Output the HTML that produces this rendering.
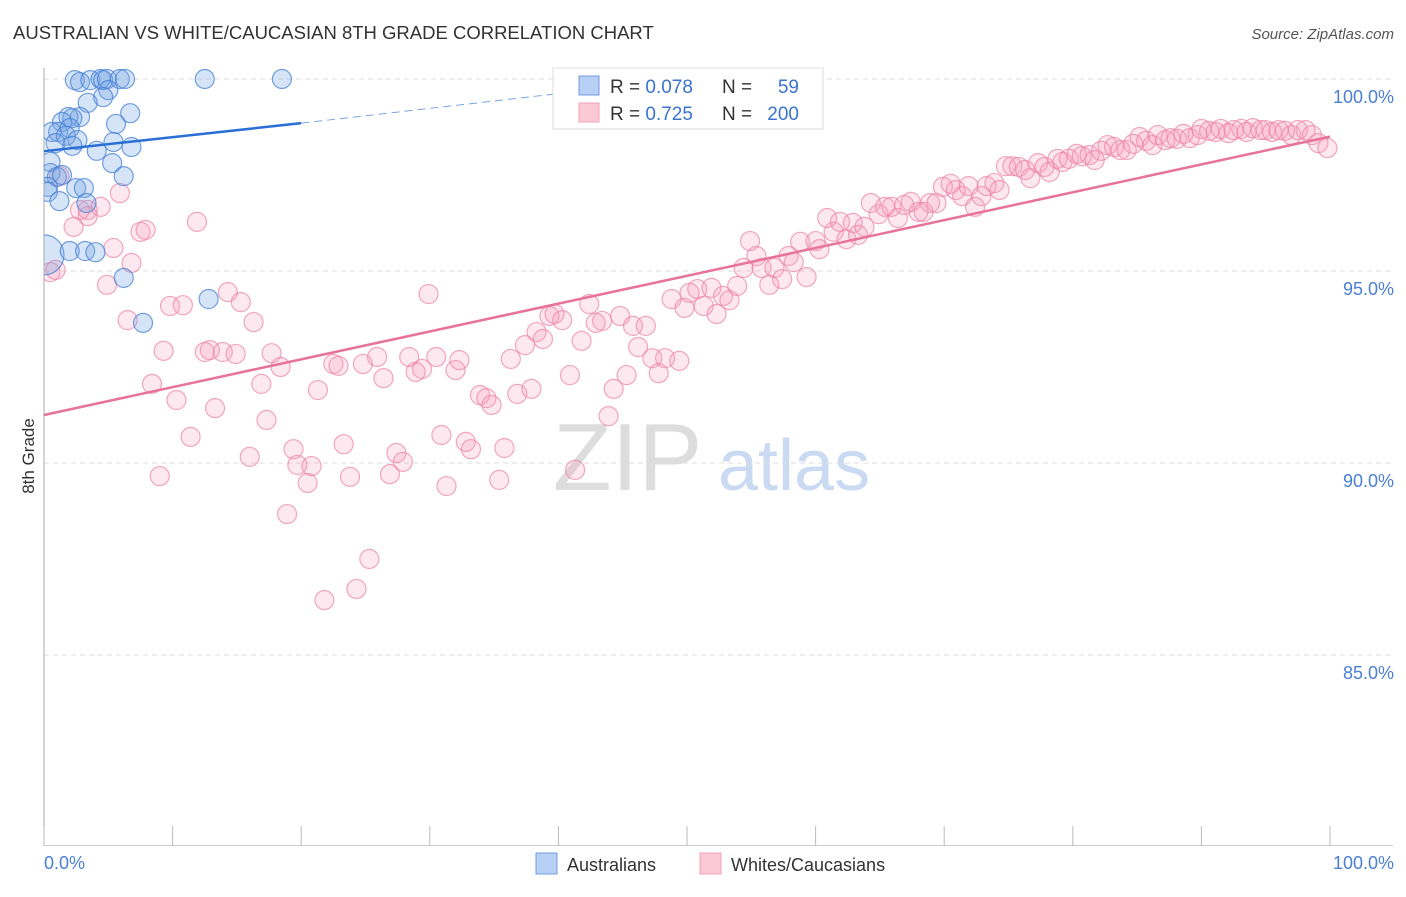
<!DOCTYPE html>
<html><head><meta charset="utf-8"><style>
body{margin:0;background:#fff;font-family:"Liberation Sans",sans-serif}
svg text{font-family:"Liberation Sans",sans-serif}
</style></head><body>
<svg id="c" width="1406" height="892" viewBox="0 0 1406 892">
<defs><clipPath id="plotclip"><rect x="44" y="40" width="1362" height="806"/></clipPath></defs>
<text x="13" y="39" font-size="18.5" fill="#333">AUSTRALIAN VS WHITE/CAUCASIAN 8TH GRADE CORRELATION CHART</text>
<text x="1394" y="39" font-size="15" fill="#555" font-style="italic" text-anchor="end">Source: ZipAtlas.com</text>
<g><text x="553" y="490" font-size="96" fill="#ddd" font-family="Liberation Serif">ZIP</text><text x="718" y="490" font-size="72" fill="#c9daf2">atlas</text></g>
<g id="grid"></g><g id="pts" clip-path="url(#plotclip)"></g><g id="lines"></g>
<text transform="translate(34,456) rotate(-90)" font-size="17" fill="#333" text-anchor="middle">8th Grade</text>
<text x="44" y="869" font-size="18" fill="#4a7fd4">0.0%</text>
<text x="1394" y="869" font-size="18" fill="#4a7fd4" text-anchor="end">100.0%</text>
<g>
<rect x="553" y="68" width="270" height="61" fill="#fff" stroke="#ddd"/>
<rect x="579" y="76" width="20" height="19" fill="#b7d0f3" stroke="#6f9ee0"/>
<rect x="579" y="103" width="20" height="19" fill="#fbc8d6" stroke="#f0a0b8"/>
<text x="610" y="93" font-size="19" fill="#333">R = <tspan fill="#3a73cf">0.078</tspan></text>
<text x="722" y="93" font-size="19" fill="#333">N = </text><text x="799" y="93" font-size="19" fill="#3a73cf" text-anchor="end">59</text>
<text x="610" y="120" font-size="19" fill="#333">R = <tspan fill="#3a73cf">0.725</tspan></text>
<text x="722" y="120" font-size="19" fill="#333">N = </text><text x="799" y="120" font-size="19" fill="#3a73cf" text-anchor="end">200</text>
</g>
<g>
<rect x="536" y="853" width="21" height="21" fill="#b7d0f3" stroke="#6f9ee0"/>
<text x="567" y="871" font-size="18" fill="#333">Australians</text>
<rect x="700" y="853" width="21" height="21" fill="#fbc8d6" stroke="#f0a0b8"/>
<text x="731" y="871" font-size="18" fill="#333">Whites/Caucasians</text>
</g>
</svg>
<script>
const yTicks=[100,95,90,85];
const yTickLabels=["100.0%","95.0%","90.0%","85.0%"];
const xTicks=[0,10,20,30,40,50,60,70,80,90,100];
const blueX=[2.4,2.8,3.6,4.4,4.6,4.9,5.9,6.3,12.5,18.5,5.0,4.6,3.4,2.8,1.9,2.2,1.4,1.1,0.6,2.0,1.7,2.6,0.9,2.2,4.1,5.6,6.7,5.4,6.8,5.3,6.2,0.5,0.5,1.0,1.4,0.3,0.3,2.5,3.1,3.3,1.2,0,2.0,3.2,4.0,6.2,7.7,12.8];
const blueY=[99.97,99.92,99.97,100,99.97,100,100,100,100,100,99.71,99.53,99.38,99.01,99.01,98.98,98.88,98.62,98.62,98.72,98.52,98.41,98.33,98.26,98.13,98.83,99.11,98.36,98.23,97.81,97.47,97.84,97.55,97.45,97.5,97.19,97.06,97.16,97.16,96.77,96.82,95.42,95.52,95.52,95.49,94.82,93.65,94.27];
const pinkX=[0.5,0.9,1.2,3.4,2.8,4.4,3.4,2.3,5.9,5.4,4.9,6.5,6.8,7.5,7.9,11.9,9.3,8.4,9.0,9.8,10.8,10.3,11.4,12.5,12.9,13.3,13.9,14.3,14.9,15.3,16.3,16.0,16.9,17.3,17.7,18.4,18.9,19.4,19.7,20.5,20.8,21.3,21.8,22.5,22.9,23.3,23.8,24.3,25.3,24.8,25.9,26.4,26.9,27.4,27.9,28.4,28.9,29.4,29.9,30.5,30.9,31.3,32.0,32.3,32.8,33.2,33.9,34.4,34.8,35.4,35.8,36.3,36.8,37.4,37.9,38.3,38.8,39.3,39.7,40.3,40.9,41.3,41.8,42.4,42.9,43.4,43.9,44.3,44.8,45.3,45.8,46.2,46.8,47.3,47.8,48.3,48.8,49.4,49.8,50.2,50.8,51.3,51.9,52.3,52.8,53.3,53.9,54.4,54.9,55.4,55.8,56.4,56.8,57.4,57.9,58.3,58.8,59.3,60.0,60.3,60.9,61.4,61.9,62.4,62.9,63.3,63.8,64.3,64.9,65.4,65.9,66.4,66.9,67.4,68.0,68.4,68.9,69.4,69.9,70.5,70.9,71.4,71.9,72.4,72.9,73.3,73.9,74.3,74.8,75.3,75.8,76.3,76.7,77.3,77.8,78.2,78.8,79.2,79.7,80.3,80.7,81.3,81.7,82.2,82.7,83.2,83.7,84.2,84.7,85.2,85.7,86.2,86.6,87.2,87.6,88.1,88.6,89.1,89.7,90.0,90.6,91.1,91.5,92.1,92.5,93.1,93.5,94.0,94.6,95.0,95.5,96.0,96.5,97.0,97.5,98.1,98.6,99.1,99.8];
const pinkY=[94.97,95.03,97.47,96.59,96.59,96.67,96.43,96.15,97.03,95.6,94.64,93.72,95.21,96.02,96.07,96.28,92.92,92.06,89.66,94.09,94.11,91.64,90.68,92.89,92.94,91.43,92.89,94.45,92.84,94.19,93.67,90.16,92.06,91.12,92.86,92.5,88.67,90.36,89.95,89.48,89.92,91.9,86.43,92.58,92.53,90.49,89.64,86.72,87.5,92.58,92.76,92.21,89.71,90.26,90.03,92.76,92.37,92.45,94.4,92.76,90.73,89.4,92.42,92.68,90.55,90.36,91.77,91.69,91.51,89.56,90.39,92.71,91.8,93.07,91.93,93.41,93.23,93.83,93.88,93.72,92.29,89.82,93.18,94.14,93.65,93.7,91.22,91.93,93.83,92.29,93.57,93.02,93.57,92.73,92.34,92.73,94.27,92.66,94.04,94.43,94.53,94.09,94.56,93.88,94.35,94.24,94.61,95.08,95.78,95.39,95.08,94.64,95.08,94.79,95.39,95.23,95.76,94.84,95.78,95.57,96.38,96.02,96.28,95.83,96.25,95.94,96.15,96.77,96.48,96.67,96.67,96.38,96.72,96.8,96.54,96.54,96.77,96.77,97.19,97.27,97.11,96.95,97.21,96.67,96.95,97.21,97.29,97.11,97.73,97.73,97.71,97.63,97.42,97.81,97.71,97.58,97.92,97.84,97.92,98.05,97.99,98.02,97.89,98.13,98.28,98.23,98.15,98.15,98.31,98.49,98.39,98.28,98.54,98.41,98.46,98.44,98.57,98.46,98.54,98.7,98.65,98.62,98.7,98.59,98.67,98.7,98.62,98.72,98.67,98.67,98.62,98.67,98.65,98.54,98.67,98.67,98.54,98.33,98.2];
const blueTrendX=[0,20,40];
const blueTrendY=[98.12,98.85,99.62];
const pinkTrendX=[0,100];
const pinkTrendY=[91.25,98.5];
const NS="http://www.w3.org/2000/svg";
const sx=v=>44+v*12.86;
const sy=v=>79+(100-v)*38.4;
function mk(t,a,p){const e=document.createElementNS(NS,t);for(const k in a)e.setAttribute(k,a[k]);p.appendChild(e);return e;}
const grid=document.getElementById('grid');
yTicks.forEach((v,i)=>{
 const l=mk('line',{x1:44,x2:1393,y1:sy(v),y2:sy(v),stroke:'#ddd','stroke-dasharray':'5,4'},grid);
 
 
 const t=mk('text',{x:1394,y:sy(v)+24,'font-size':18,fill:'#4a7fd4','text-anchor':'end'},grid);
 t.textContent=yTickLabels[i];
 
 
});
const ax=mk('line',{x1:44,x2:44,y1:68,y2:846,stroke:'#aaa'},grid);


const bx=mk('line',{x1:44,x2:1393,y1:845.5,y2:845.5,stroke:'#ccc'},grid);


xTicks.forEach(v=>{
 const t=mk('line',{x1:sx(v),x2:sx(v),y1:826,y2:846,stroke:'#bbb'},grid);
 
 
});
const pts=document.getElementById('pts');
pinkX.forEach((x,i)=>{
 const c=mk('circle',{cx:sx(x),cy:sy(pinkY[i]),r:9.5,fill:'rgba(244,150,180,0.22)',stroke:'rgba(236,130,165,0.7)','stroke-width':1.2},pts);
 
 
});
blueX.forEach((x,i)=>{
 const c=mk('circle',{cx:sx(x),cy:sy(blueY[i]),r:(x===0?20:9.5),fill:'rgba(120,165,230,0.3)',stroke:'rgba(70,130,215,0.75)','stroke-width':1.2},pts);
 
 
});
const lines=document.getElementById('lines');
const b1=mk('line',{x1:sx(blueTrendX[0]),y1:sy(blueTrendY[0]),x2:sx(blueTrendX[1]),y2:sy(blueTrendY[1]),stroke:'#2a6fd6','stroke-width':2.5},lines);


const b2=mk('line',{x1:sx(blueTrendX[1]),y1:sy(blueTrendY[1]),x2:sx(blueTrendX[2]),y2:sy(blueTrendY[2]),stroke:'#7aa5e3','stroke-width':1,'stroke-dasharray':'8,5'},lines);


const p1=mk('line',{x1:sx(pinkTrendX[0]),y1:sy(pinkTrendY[0]),x2:sx(pinkTrendX[1]),y2:sy(pinkTrendY[1]),stroke:'#e8739a','stroke-width':2.5},lines);


</script>
</body></html>
